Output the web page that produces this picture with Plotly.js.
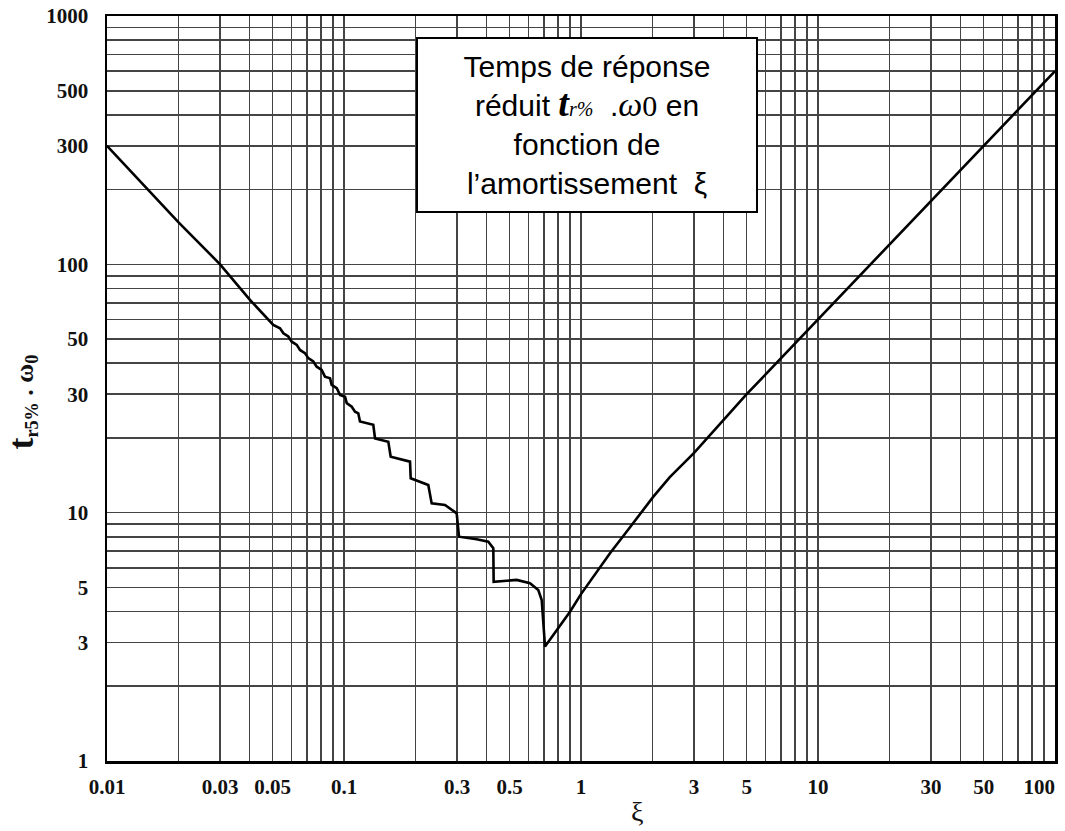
<!DOCTYPE html>
<html>
<head>
<meta charset="utf-8">
<script src="https://cdn.plot.ly/plotly-3.0.1.min.js"></script>
<style>
html, body { margin: 0; padding: 0; background: #ffffff; }
#chart { width: 1065px; height: 831px; }
</style>
</head>
<body>
<div id="chart"></div>
<script>
// Damping ratio xi (left, under-damped branch with steps)
const xiLow = [0.01, 0.02, 0.03, 0.0401, 0.0503, 0.0537, 0.0555, 0.0582, 0.0602, 0.0632, 0.0652, 0.0684,
  0.0707, 0.0742, 0.0767, 0.0805, 0.0831, 0.0873, 0.0887, 0.0932, 0.0962, 0.101, 0.1027, 0.1078,
  0.1113, 0.1149, 0.1168, 0.1247, 0.1329, 0.1352, 0.1538, 0.1574, 0.1899, 0.1912, 0.2268, 0.2344,
  0.2668, 0.2989, 0.3056, 0.363, 0.4063, 0.4266, 0.428, 0.5355, 0.6093, 0.6603, 0.6827, 0.705];
const tLow = [300, 148, 100, 71.9, 57.0, 55.3, 52.8, 51.2, 48.8, 47.4, 45.2, 43.9,
  41.9, 40.6, 38.7, 37.6, 35.3, 34.8, 32.7, 31.7, 29.8, 29.3, 27.6, 26.7,
  25.5, 25.1, 23.3, 22.9, 22.6, 19.9, 19.3, 16.8, 16.05, 13.76, 12.93, 10.9,
  10.74, 9.94, 8.0, 7.81, 7.64, 7.19, 5.27, 5.36, 5.20, 4.88, 4.45, 2.89];
// Right, over-damped branch
const xiHigh = [0.8, 0.9, 1.0, 1.15, 1.33, 1.5, 1.72, 2.02, 2.37, 2.79, 3, 5, 10, 20, 30, 50, 100];
const tHigh = [3.4, 4.0, 4.7, 5.7, 6.9, 8.0, 9.5, 11.6, 13.9, 16.3, 17.4, 30, 60, 120, 180, 300, 600];

// Axis tick labels
const xLabelVals = [0.01, 0.03, 0.05, 0.1, 0.3, 0.5, 1, 3, 5, 10, 30, 50, 100];
const xLabelText = ['0.01', '0.03', '0.05', '0.1', '0.3', '0.5', '1', '3', '5', '10', '30', '50', '100\u2007\u2007\u2007'];
const yLabelVals = [1, 3, 5, 10, 30, 50, 100, 300, 500, 1000];
const yLabelText = ['1', '3', '5', '10', '30', '50', '100', '300', '500', '1000'];
const digits = [1, 2, 3, 4, 5, 6, 7, 8, 9];
const xDecades = [0.01, 0.1, 1, 10];
const yDecades = [1, 10, 100];

function gridTicks(decades, top, labVals, labText) {
  const vals = [], text = [];
  decades.forEach(d => digits.forEach(k => {
    const v = +(d * k).toPrecision(6);
    vals.push(v);
    const i = labVals.findIndex(l => Math.abs(l - v) / v < 1e-6);
    text.push(i >= 0 ? labText[i] : '');
  }));
  vals.push(top);
  const i = labVals.indexOf(top);
  text.push(i >= 0 ? labText[i] : '');
  return { vals, text };
}
const gx = gridTicks(xDecades, 100, xLabelVals, xLabelText);
const gy = gridTicks(yDecades, 1000, yLabelVals, yLabelText);

const trace = {
  x: xiLow.concat(xiHigh),
  y: tLow.concat(tHigh),
  type: 'scatter',
  mode: 'lines',
  line: { color: '#000000', width: 2.6 },
  hoverinfo: 'skip',
  showlegend: false
};

const serif = 'Liberation Serif, Times New Roman, serif';
const tickFont = { family: serif, size: 21, color: '#111111', weight: 'bold' };

const layout = {
  width: 1065,
  height: 831,
  margin: { l: 107, r: 10, t: 16, b: 70 },
  paper_bgcolor: '#ffffff',
  plot_bgcolor: '#ffffff',
  xaxis: {
    type: 'log',
    range: [-2, 2],
    tickmode: 'array',
    tickvals: gx.vals,
    ticktext: gx.text,
    tickfont: tickFont,
    tickangle: 0,
    ticks: '',
    ticklabelstandoff: 5,
    ticklabeloverflow: 'allow',
    showgrid: true,
    gridcolor: '#444444',
    gridwidth: 1.6,
    showline: true,
    mirror: true,
    linecolor: '#000000',
    linewidth: 2.5,
    zeroline: false
  },
  yaxis: {
    type: 'log',
    range: [0, 3],
    tickmode: 'array',
    tickvals: gy.vals,
    ticktext: gy.text,
    tickfont: tickFont,
    tickangle: 0,
    ticks: '',
    ticklabelstandoff: 12,
    ticklabeloverflow: 'allow',
    showgrid: true,
    gridcolor: '#444444',
    gridwidth: 1.6,
    showline: true,
    mirror: true,
    linecolor: '#000000',
    linewidth: 2.5,
    zeroline: false
  },
  annotations: [
    {
      xref: 'paper', yref: 'paper',
      x: 0.5063, y: 0.8537,
      xanchor: 'center', yanchor: 'middle',
      showarrow: false,
      align: 'center',
      width: 330, height: 164,
      bgcolor: '#ffffff',
      bordercolor: '#000000',
      borderwidth: 2,
      borderpad: 4,
      font: { family: 'Liberation Sans, Arial, sans-serif', size: 30, color: '#000000' },
      text: 'Temps de réponse<br>réduit <span style="font-family:Liberation Serif,serif;font-size:38px;font-weight:bold;font-style:italic">t</span><span style="font-family:Liberation Serif,serif;font-size:20px;font-style:italic">r%</span>  .<span style="font-family:Liberation Serif,serif;font-size:34px;font-style:italic">ω</span><span style="font-family:Liberation Serif,serif;font-size:30px">0</span> en<br>fonction de<br>l’amortissement  ξ'
    },
    {
      xref: 'paper', yref: 'paper',
      x: -0.09, y: 0.482,
      xanchor: 'center', yanchor: 'middle',
      textangle: -90,
      showarrow: false,
      font: { family: serif, size: 26, color: '#111111', weight: 'bold' },
      text: '<span style="font-size:36px">t</span><sub>r5%</sub> . ω<sub>0</sub>'
    },
    {
      xref: 'paper', yref: 'paper',
      x: 0.559, y: -0.068,
      xanchor: 'center', yanchor: 'middle',
      showarrow: false,
      font: { family: serif, size: 28, color: '#111111' },
      text: 'ξ'
    }
  ]
};

Plotly.newPlot('chart', [trace], layout, { displayModeBar: false, staticPlot: true });
</script>
</body>
</html>
